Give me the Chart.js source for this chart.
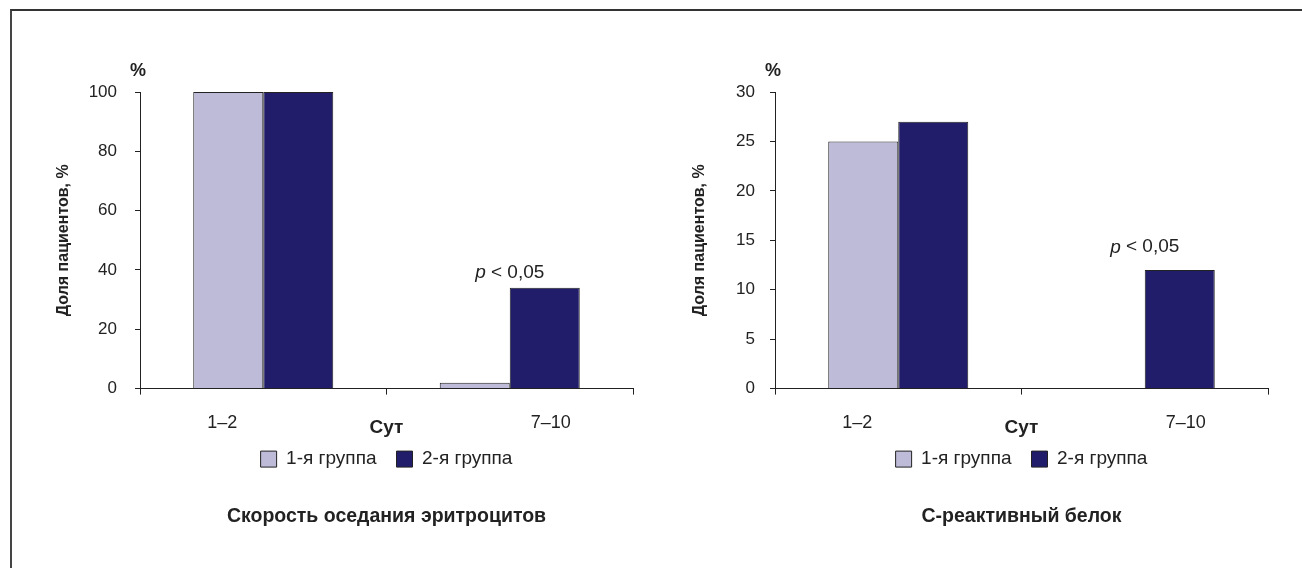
<!DOCTYPE html>
<html lang="ru">
<head>
<meta charset="UTF-8">
<title>СОЭ и С-реактивный белок</title>
<script src="https://cdn.jsdelivr.net/npm/chart.js"></script>
<style>
  body { margin: 0; width: 1302px; height: 568px; overflow: hidden; position: relative; background: #fff; }
  .frame { position: absolute; left: 10px; top: 9px; right: -10px; bottom: -10px;
           border-top: 2px solid #333; border-left: 2px solid #444; }
  .chart-box { position: absolute; top: 0; width: 651px; height: 568px; }
  #box-esr { left: 0; }
  #box-crp { left: 651px; }
</style>
</head>
<body>
<div class="frame"></div>
<div class="chart-box" id="box-esr"><canvas id="chartEsr" width="651" height="568"></canvas></div>
<div class="chart-box" id="box-crp"><canvas id="chartCrp" width="651" height="568"></canvas></div>

<script>
// data
const categories = ['1–2', '7–10'];
const dayLabels = ['1–2', '', '7–10'];
const groupNames = ['1-я группа', '2-я группа'];

const esrGroup1 = [100, 2];
const esrGroup2 = [100, 34];
const crpGroup1 = [25, 0];
const crpGroup2 = [27, 12];

const esrTicks = [0, 20, 40, 60, 80, 100];
const crpTicks = [0, 5, 10, 15, 20, 25, 30];

// height (in axis units) where "p < 0,05" sits over 7–10
const esrNoteAt = 39;
const crpNoteAt = 14.3;

const captions = ['Скорость оседания эритроцитов', 'С-реактивный белок'];
const yTitle = 'Доля пациентов, %';
const xTitle = 'Сут';

const ink = '#222';
const lightFill = '#bdbbd7';
const darkFill = '#211d6b';
const family = '"Liberation Sans", Arial, Helvetica, sans-serif';

Chart.defaults.font.family = family;
Chart.defaults.color = ink;

// "%" above the axis and the p-value note
const notesPlugin = {
  id: 'notes',
  afterDraw(chart, args, opts) {
    const { ctx, chartArea, scales } = chart;
    ctx.save();
    ctx.fillStyle = ink;
    ctx.textBaseline = 'middle';
    ctx.textAlign = 'center';
    ctx.font = 'bold 18px ' + family;
    ctx.fillText('%', chartArea.left - 2, chartArea.top - 21);

    const cx = scales.x.getPixelForValue(1);
    const cy = scales.y.getPixelForValue(opts.noteAt);
    const italic = 'italic 19px ' + family;
    const plain = '19px ' + family;
    ctx.font = italic;
    const wp = ctx.measureText('p').width;
    ctx.font = plain;
    const rest = ' < 0,05';
    const wr = ctx.measureText(rest).width;
    const x0 = cx - (wp + wr) / 2;
    ctx.textAlign = 'left';
    ctx.font = italic;
    ctx.fillText('p', x0, cy);
    ctx.font = plain;
    ctx.fillText(rest, x0 + wp, cy);
    ctx.restore();
  }
};

function makeChart(id, g1, g2, ticks, noteAt, caption, lay) {
  const ctx = document.getElementById(id).getContext('2d');
  return new Chart(ctx, {
    type: 'bar',
    data: {
      labels: categories,
      datasets: [
        { label: groupNames[0], data: g1, backgroundColor: lightFill, borderColor: ink, borderWidth: 1 },
        { label: groupNames[1], data: g2, backgroundColor: darkFill, borderColor: ink, borderWidth: 1 }
      ]
    },
    plugins: [notesPlugin],
    options: {
      responsive: false,
      devicePixelRatio: 1,
      animation: false,
      barPercentage: 1,
      categoryPercentage: 0.568,
      layout: { padding: { top: 92, left: 0, right: lay.right, bottom: 40 } },
      plugins: {
        notes: { noteAt: noteAt },
        tooltip: { enabled: false },
        legend: {
          position: 'bottom',
          fullSize: false,
          labels: { boxWidth: 16, boxHeight: 16, padding: 20, font: { size: 19 }, color: ink }
        },
        title: {
          display: true,
          position: 'bottom',
          fullSize: false,
          text: caption,
          color: ink,
          font: { size: 19.5, weight: 'bold' },
          padding: { top: 26, bottom: 0 }
        }
      },
      scales: {
        x: {
          type: 'category',
          weight: 0,
          offset: true,
          grid: { offset: true, drawOnChartArea: false, drawTicks: true, tickLength: 6, color: ink },
          border: { color: ink, width: 1 },
          ticks: { display: false },
          afterFit: (s) => { s.height = 6; }
        },
        days: {
          type: 'category',
          labels: dayLabels,
          position: 'bottom',
          weight: 1,
          offset: true,
          grid: { display: false },
          border: { display: false },
          ticks: { padding: 10, font: { size: 18 }, color: ink, maxRotation: 0, autoSkip: false },
          title: { display: true, text: xTitle, color: ink, font: { size: 19, weight: 'bold' }, padding: { top: 0, bottom: -10 } },
          afterFit: (s) => { s.height = 35; }
        },
        y: {
          min: ticks[0],
          max: ticks[ticks.length - 1],
          ticks: { stepSize: ticks[1] - ticks[0], padding: lay.tickPad, font: { size: 17 }, color: ink },
          grid: { drawOnChartArea: false, drawTicks: true, tickLength: 5, color: ink },
          border: { color: ink, width: 1 },
          title: { display: true, text: yTitle, color: ink, font: { size: 16, weight: 'bold' }, padding: { top: lay.titlePad, bottom: 0 } },
          afterFit: (s) => { s.width = lay.axisX; }
        }
      }
    }
  });
}

makeChart('chartEsr', esrGroup1, esrGroup2, esrTicks, esrNoteAt, captions[0], { right: 18, tickPad: 18, titlePad: 54, axisX: 140 });
makeChart('chartCrp', crpGroup1, crpGroup2, crpTicks, crpNoteAt, captions[1], { right: 34, tickPad: 15, titlePad: 39, axisX: 124 });
</script>
</body>
</html>
